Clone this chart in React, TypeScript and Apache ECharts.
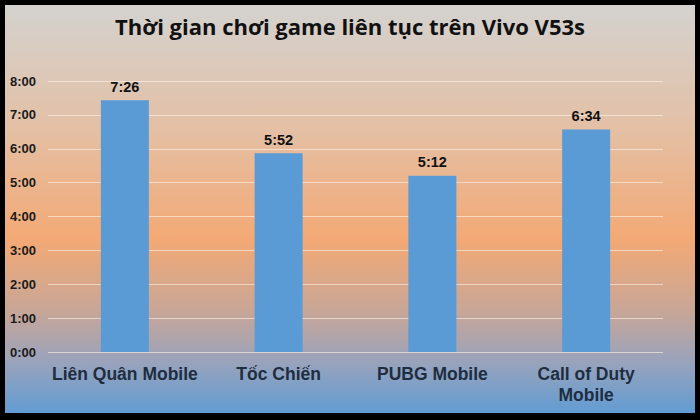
import React, { useEffect, useRef } from "react";
import * as echarts from "echarts";

const titleText = "Thời gian chơi game liên tục trên Vivo V53s";
const categories = ["Liên Quân Mobile", "Tốc Chiến", "PUBG Mobile", "Call of Duty\nMobile"];
// play time in minutes
const playMinutes = [446, 352, 312, 394];
const yMax = 480;
const yInterval = 60;

const fmt = (m: number) => {
  const h = Math.floor(m / 60);
  const mm = Math.round(m - h * 60);
  return `${h}:${mm < 10 ? "0" + mm : mm}`;
};

export default function App() {
  const ref = useRef<HTMLDivElement>(null);
  useEffect(() => {
    if (!ref.current) return;
    const chart = echarts.init(ref.current, null, { renderer: "svg" });
    chart.setOption({
      animation: false,
      backgroundColor: new echarts.graphic.LinearGradient(0, 0, 0, 1, [
        { offset: 0, color: "#d3d3d1" },
        { offset: 0.3, color: "#e3c0a6" },
        { offset: 0.57, color: "#f3a975" },
        { offset: 0.74, color: "#c8a697" },
        { offset: 0.86, color: "#9aa3bb" },
        { offset: 1, color: "#5a9bd6" },
      ]),
      title: {
        text: titleText,
        left: "center",
        top: 10,
        textStyle: {
          fontFamily: "Open Sans",
          fontWeight: "bold",
          fontSize: 22,
          color: "#111111",
        },
      },
      grid: { left: 48, right: 37, top: 81, bottom: 68 },
      xAxis: {
        type: "category",
        data: categories,
        axisLine: { show: false },
        axisTick: { show: false },
        axisLabel: {
          margin: 11,
          fontFamily: "Liberation Sans, Arial",
          fontWeight: "bold",
          fontSize: 17.5,
          lineHeight: 21,
          color: "#1f2d40",
          interval: 0,
        },
      },
      yAxis: {
        type: "value",
        min: 0,
        max: yMax,
        interval: yInterval,
        axisLine: { show: false },
        axisTick: { show: false },
        splitLine: { lineStyle: { color: "rgba(255,245,235,0.6)", width: 1 } },
        axisLabel: {
          margin: 12,
          fontFamily: "Liberation Sans, Arial",
          fontWeight: "bold",
          fontSize: 13,
          color: "#1a1a1a",
          formatter: (v: number) => fmt(v),
        },
      },
      series: [
        {
          type: "bar",
          data: playMinutes,
          barWidth: 48,
          itemStyle: { color: "#5b9bd5" },
          label: {
            show: true,
            position: "top",
            distance: 6,
            fontFamily: "Liberation Sans, Arial",
            fontWeight: "bold",
            fontSize: 14.5,
            color: "#111111",
            formatter: (p: any) => fmt(p.value),
          },
        },
      ],
      graphic: [
        {
          type: "rect",
          shape: { x: 2.5, y: 2.5, width: 695, height: 413 },
          style: { fill: "none", stroke: "#000000", lineWidth: 5 },
          silent: true,
          z: 100,
        },
        {
          type: "rect",
          shape: { x: 0, y: 413, width: 700, height: 7 },
          style: { fill: "#000000" },
          silent: true,
          z: 100,
        },
      ],
    });
    return () => chart.dispose();
  }, []);
  return (
    <div
      ref={ref}
      style={{ width: 700, height: 420, position: "fixed", left: 0, top: 0 }}
    />
  );
}
